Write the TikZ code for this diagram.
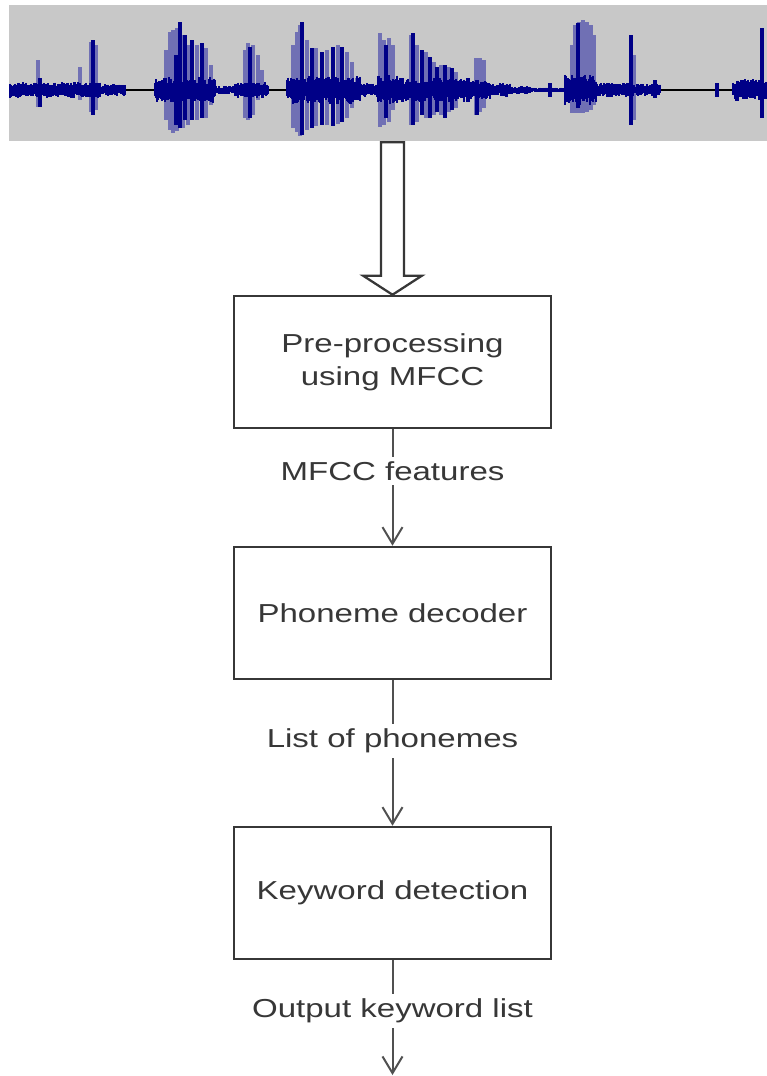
\documentclass[tikz,border=0pt]{standalone}
\usepackage{fontspec}
\setmainfont{Liberation Sans}[FakeStretch=1.27]
\usetikzlibrary{arrows.meta,calc}

\definecolor{bandgray}{RGB}{200,200,200}
\definecolor{wavedark}{RGB}{0,0,135}
\definecolor{wavelight}{RGB}{112,112,180}
\definecolor{baseline}{RGB}{85,85,95}
\definecolor{boxline}{RGB}{55,55,55}
\definecolor{arrline}{RGB}{80,80,80}
\definecolor{txt}{RGB}{55,55,55}

\tikzset{
  stagebox/.style={draw=boxline, line width=1.9pt, minimum width=237.75pt,
    minimum height=99pt, align=center, inner sep=0pt,
    font=\fontsize{19.5}{24.75}\selectfont, text=txt},
  flowlabel/.style={fill=white, inner xsep=2pt, inner ysep=3.5pt,
    font=\fontsize{19.5}{24.75}\selectfont, text=txt},
  flow/.style={draw=arrline, line width=1.5pt,
    -{Straight Barb[length=12.5pt,width=15pt]}},
  hollowarrow/.style={draw=boxline, line width=1.7pt, fill=white, line join=miter},
  spikelight/.style={draw=wavelight, line width=3.2pt},
  noisecol/.style={draw=wavedark, line width=1.05pt},
  spikedark/.style={draw=wavedark, line width=2.4pt},
}

% one vertical stroke per pixel column, random height under a flat envelope
\newcommand\noiseseg[3]{%
  \foreach \xc in {#1,...,#2}{%
    \pgfmathsetmacro\ampU{#3*(0.45+0.55*rnd)}%
    \pgfmathsetmacro\ampD{#3*(0.45+0.55*rnd)}%
    \draw[noisecol] (\xc,{90-\ampU}) -- (\xc,{90+\ampD});
  }}

\begin{document}
\begin{tikzpicture}[x=0.75pt, y=-0.75pt]
\useasboundingbox (0,0) rectangle (767,1076);
\pgfmathsetseed{11}

% speech signal strip
\node[fill=bandgray, minimum width=568.5pt, minimum height=102pt, inner sep=0pt] (wave) at (388,73) {};
\draw[baseline, line width=0.8pt] (10,90) -- (767,90);

% light, stepped envelopes behind the loud syllables
\foreach \xs/\ts/\bs in {38/60/107, 80/67/100, 91/42/112, 96/45/110,
  166/50/120, 170/32/130, 173/30/133, 177/28/131, 183/35/128, 188/45/125,
  197/45/120, 206/48/118, 211/65/105,
  245/50/118, 248/43/120, 253/45/115, 258/55/100, 262/70/95,
  293/45/128, 297/32/132, 300/25/136, 307/40/130, 316/48/126, 327/50/125,
  338/45/124, 347/52/118, 352/62/108, 357/78/100,
  380/33/127, 384/40/125, 389/38/122, 393/45/110,
  411/35/125, 417/45/122, 426/52/118, 434/62/115, 441/65/115, 449/67/112, 456/72/108,
  476/58/115, 480/58/112, 484/60/108,
  572/45/113, 575/25/113, 579/22/113, 583/20/113, 587/22/112, 591/25/110, 594/35/105,
  634/55/120}
  \draw[spikelight] (\xs,\ts) -- (\xs,\bs);

% dense low-level body of the signal
\noiseseg{10}{62}{8}
\noiseseg{62}{100}{8}
\noiseseg{100}{125}{6}
\noiseseg{155}{215}{13}
\noiseseg{215}{235}{4}
\noiseseg{235}{268}{8}
\noiseseg{287}{360}{14}
\noiseseg{360}{378}{7}
\noiseseg{378}{398}{15}
\noiseseg{398}{465}{12}
\noiseseg{465}{490}{10}
\noiseseg{490}{510}{7}
\noiseseg{510}{530}{4}
\noiseseg{530}{565}{2.5}
\noiseseg{565}{596}{16}
\noiseseg{596}{630}{7}
\noiseseg{630}{660}{6}
\noiseseg{733}{760}{11}
\noiseseg{760}{766}{9}

% strong peaks
\foreach \xs/\ts/\bs in {40/78/107, 93/40/115, 180/22/128, 185/35/120, 192/40/120,
  202/43/118, 176/55/125, 250/47/118, 302/22/135, 312/48/128, 322/52/125,
  333/47/126, 342/47/122, 386/45/118, 413/33/125, 422/50/115, 430/57/118,
  437/67/112, 445/65/118, 452/68/110, 468/78/102, 477/80/115, 550/83/97,
  578/23/108, 631/35/125, 655/80/98, 717/83/97, 762/28/118}
  \draw[spikedark] (\xs,\ts) -- (\xs,\bs);

% processing stages
\node[stagebox] (b1) at (392.5,362) {Pre-processing\\using MFCC};
\node[stagebox] (b2) at (392.5,613) {Phoneme decoder};
\node[stagebox] (b3) at (392.5,893) {Keyword detection};
\coordinate (out) at (392.5,1075);

% block arrow from the signal into the first stage
\draw[hollowarrow] let \p1=(wave.south), \p2=(b1.north) in
  (\x2-8.6pt,\y1-0.8pt) -- (\x2+8.6pt,\y1-0.8pt) -- (\x2+8.6pt,\y2+14.25pt)
  -- (\x2+22pt,\y2+14.25pt) -- (\x2,\y2) -- (\x2-22pt,\y2+14.25pt)
  -- (\x2-8.6pt,\y2+14.25pt) -- cycle;

% connectors with their labels
\draw[flow] (b1) -- (b2);
\draw[flow] (b2) -- (b3);
\draw[flow] (b3) -- (out);
\node[flowlabel] (l1) at (392.5,471) {MFCC features};
\node[flowlabel] (l2) at (392.5,741) {List of phonemes};
\node[flowlabel] (l3) at (392.5,1011) {Output keyword list};
\end{tikzpicture}
\end{document}
